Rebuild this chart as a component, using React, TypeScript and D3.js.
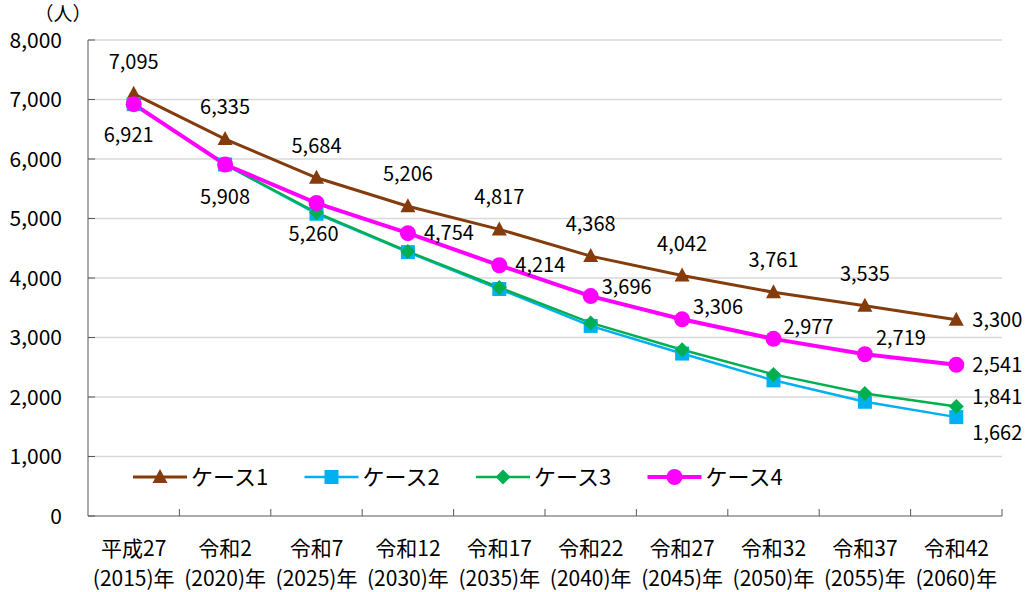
import React from 'react'
import * as d3 from 'd3'

const categories = ['平成27', '令和2', '令和7', '令和12', '令和17', '令和22', '令和27', '令和32', '令和37', '令和42']
const years = ['(2015)年', '(2020)年', '(2025)年', '(2030)年', '(2035)年', '(2040)年', '(2045)年', '(2050)年', '(2055)年', '(2060)年']

const case1 = [7095, 6335, 5684, 5206, 4817, 4368, 4042, 3761, 3535, 3300]
const case2 = [6921, 5908, 5080, 4435, 3815, 3195, 2730, 2280, 1920, 1662]
const case3 = [6921, 5908, 5100, 4445, 3840, 3245, 2795, 2380, 2060, 1841]
const case4 = [6921, 5908, 5260, 4754, 4214, 3696, 3306, 2977, 2719, 2541]

const yTicks = [0, 1000, 2000, 3000, 4000, 5000, 6000, 7000, 8000]

// label layout: [dx, dy, anchor]; null = no label
type Lab = [number, number, string] | null
const up: Lab = [0, -25, 'middle']
const labels1: Lab[] = [up, up, up, up, up, up, up, up, up, [16, 7, 'start']]
const labels2: Lab[] = [null, null, null, null, null, null, null, null, null, [16, 23, 'start']]
const labels3: Lab[] = [null, null, null, null, null, null, null, null, null, [16, -2, 'start']]
const labels4: Lab[] = [
  [-5, 38, 'middle'], [0, 40, 'middle'], [-3, 38, 'middle'], [16, 7, 'start'], [16, 7, 'start'],
  [11, -2, 'start'], [11, -5, 'start'], [10, -5, 'start'], [11, -9, 'start'], [16, 7, 'start'],
]

const series = [
  { name: 'ケース1', values: case1, color: '#843C0C', width: 3, marker: 'triangle', labels: labels1 },
  { name: 'ケース2', values: case2, color: '#00B0F0', width: 2.5, marker: 'square', labels: labels2 },
  { name: 'ケース3', values: case3, color: '#00B050', width: 2.5, marker: 'diamond', labels: labels3 },
  { name: 'ケース4', values: case4, color: '#FF00FF', width: 4, marker: 'circle', labels: labels4 },
]

const font = '"Noto Sans CJK JP", "Liberation Sans", sans-serif'
const fmt = d3.format(',')

const Marker = ({ type, x, y, color }: { type: string; x: number; y: number; color: string }) => {
  if (type === 'triangle') {
    return <path d={`M${x},${y - 8}L${x + 7.5},${y + 6}L${x - 7.5},${y + 6}Z`} fill={color} />
  }
  if (type === 'square') {
    return <rect x={x - 7} y={y - 7} width={14} height={14} fill={color} />
  }
  if (type === 'diamond') {
    return <path d={`M${x},${y - 7.5}L${x + 7.5},${y}L${x},${y + 7.5}L${x - 7.5},${y}Z`} fill={color} />
  }
  return <circle cx={x} cy={y} r={8} fill={color} />
}

const App = () => {
  const width = 1030
  const height = 592
  const left = 88
  const right = 1002
  const top = 40
  const bottom = 516

  const x = d3.scaleBand().domain(categories).range([left, right])
  const y = d3.scaleLinear().domain([0, 8000]).range([bottom, top])
  const cx = (i: number) => (x(categories[i]) as number) + x.bandwidth() / 2

  const line = d3
    .line<number>()
    .x((d, i) => cx(i))
    .y(d => y(d))

  return (
    <div style={{ position: 'absolute', left: 0, top: 0 }}>
      <svg width={width} height={height} style={{ display: 'block', fontFamily: font }}>
        <rect width={width} height={height} fill="#fff" />
        {yTicks.slice(1).map(t => (
          <line key={t} x1={left} x2={right} y1={y(t)} y2={y(t)} stroke="#d9d9d9" strokeWidth={1.5} />
        ))}
        <line x1={left} x2={left} y1={top} y2={bottom} stroke="#595959" strokeWidth={1} />
        <line x1={left} x2={right} y1={bottom} y2={bottom} stroke="#595959" strokeWidth={1.2} />
        {yTicks.map(t => (
          <g key={t}>
            <line x1={left} x2={left + 7} y1={y(t)} y2={y(t)} stroke="#595959" />
            <text x={62} y={y(t) + 7.5} fontSize={21} textAnchor="end" fill="#000">
              {fmt(t)}
            </text>
          </g>
        ))}
        {categories.map(c => (
          <line
            key={c}
            x1={(x(c) as number) + x.bandwidth()}
            x2={(x(c) as number) + x.bandwidth()}
            y1={bottom}
            y2={bottom - 7}
            stroke="#595959"
          />
        ))}
        {categories.map((c, i) => (
          <g key={c}>
            <text x={cx(i)} y={556} fontSize={21} textAnchor="middle">
              {c}
            </text>
            <text x={cx(i)} y={586} fontSize={21} textAnchor="middle">
              {years[i]}
            </text>
          </g>
        ))}
        <text x={63} y={21} fontSize={19} textAnchor="middle">
          （人）
        </text>

        {series.map(s => (
          <path key={s.name} d={line(s.values) as string} fill="none" stroke={s.color} strokeWidth={s.width} />
        ))}
        {series.map(s => (
          <g key={s.name}>
            {s.values.map((v, i) => (
              <Marker key={i} type={s.marker} x={cx(i)} y={y(v)} color={s.color} />
            ))}
          </g>
        ))}
        {series.map(s => (
          <g key={s.name}>
            {s.values.map((v, i) => {
              const l = s.labels[i]
              if (!l) return null
              return (
                <text key={i} x={cx(i) + l[0]} y={y(v) + l[1]} fontSize={20} textAnchor={l[2]}>
                  {fmt(v)}
                </text>
              )
            })}
          </g>
        ))}

        {series.map((s, i) => {
          const lx = 133 + i * 171.5
          const ly = 477
          return (
            <g key={s.name}>
              <line x1={lx} x2={lx + 54} y1={ly} y2={ly} stroke={s.color} strokeWidth={s.width} />
              <Marker type={s.marker} x={lx + 27} y={ly} color={s.color} />
              <text x={lx + 58} y={ly + 8} fontSize={22}>
                {s.name}
              </text>
            </g>
          )
        })}
      </svg>
    </div>
  )
}

export default App
